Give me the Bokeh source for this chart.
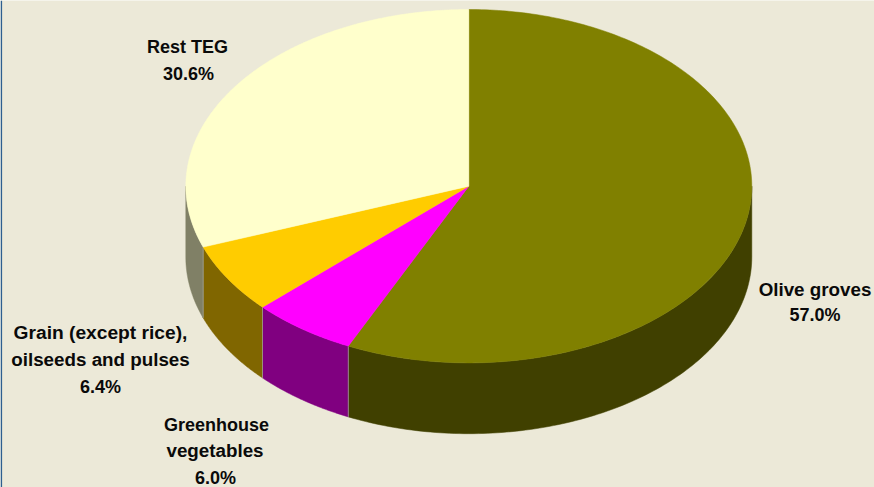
import numpy as np
from bokeh.embed import file_html
from bokeh.resources import INLINE
from bokeh.plotting import figure
from bokeh.core.properties import value
from bokeh.models import Range1d

categories = ["Olive groves", "Greenhouse vegetables", "Grain (except rice), oilseeds and pulses", "Rest TEG"]
shares = [57.0, 6.0, 6.4, 30.6]
top_colors = ["#808000", "#FF00FF", "#FFCC00", "#FFFFCC"]
side_colors = ["#404000", "#800080", "#806600", "#808066"]
label_lines = ["Olive groves", "57.0%", "Greenhouse", "vegetables", "6.0%",
               "Grain (except rice),", "oilseeds and pulses", "6.4%", "Rest TEG", "30.6%"]
label_x = [814.5, 814.5, 216, 214.5, 215, 100, 100, 100, 187, 188]
label_y = [289, 314, 424, 450, 477, 332, 359, 386, 46, 73]
label_sizes = ["18.8px", "18px", "18px", "18.8px", "18px", "19.2px", "18.8px", "18px", "18px", "18px"]

BG = "#ECE9D8"
W, H = 874, 487
CX, CY, RX, RY, DEPTH = 468.3, 185.7, 283.0, 176.7, 70.8

p = figure(width=W, height=H, output_backend="svg", toolbar_location=None,
           x_range=Range1d(0, W), y_range=Range1d(H, 0),
           background_fill_color=BG, border_fill_color=BG,
           min_border=0, outline_line_color=None)
p.xaxis.visible = False
p.yaxis.visible = False
p.grid.visible = False

p.quad(left=[0], right=[1.6], bottom=[H], top=[0], fill_color="#2F5F8F", line_color=None)

edges = np.cumsum([0.0] + shares) / sum(shares) * 2 * np.pi

def px(t):
    return CX + RX * np.sin(t)

def py(t):
    return CY - RY * np.cos(t)

sx, sy, sc = [], [], []
for a, b, c in zip(edges[:-1], edges[1:], side_colors):
    lo, hi = max(a, np.pi / 2), min(b, 3 * np.pi / 2)
    if hi <= lo:
        continue
    t = np.linspace(lo, hi, 120)
    sx.append(np.r_[px(t), px(t)[::-1]])
    sy.append(np.r_[py(t), py(t)[::-1] + DEPTH])
    sc.append(c)
p.patches(sx, sy, fill_color=sc, line_color=sc, line_width=0.5)

for e in edges[1:-1]:
    if np.pi / 2 < e < 3 * np.pi / 2:
        p.line([px(e), px(e)], [py(e), py(e) + DEPTH], line_color="#A0A090", line_width=0.8)

tx, ty = [], []
for a, b in zip(edges[:-1], edges[1:]):
    t = np.linspace(a, b, 240)
    tx.append(np.r_[CX, px(t)])
    ty.append(np.r_[CY, py(t)])
p.patches(tx, ty, fill_color=top_colors, line_color=top_colors, line_width=0.5)

p.text(label_x, label_y, text=label_lines, text_align="center", text_baseline="middle",
       text_font=value("Liberation Sans"), text_font_style="bold",
       text_font_size=label_sizes, text_color="#0A0A0A")

open("out.html", "w").write(file_html(p, INLINE))
